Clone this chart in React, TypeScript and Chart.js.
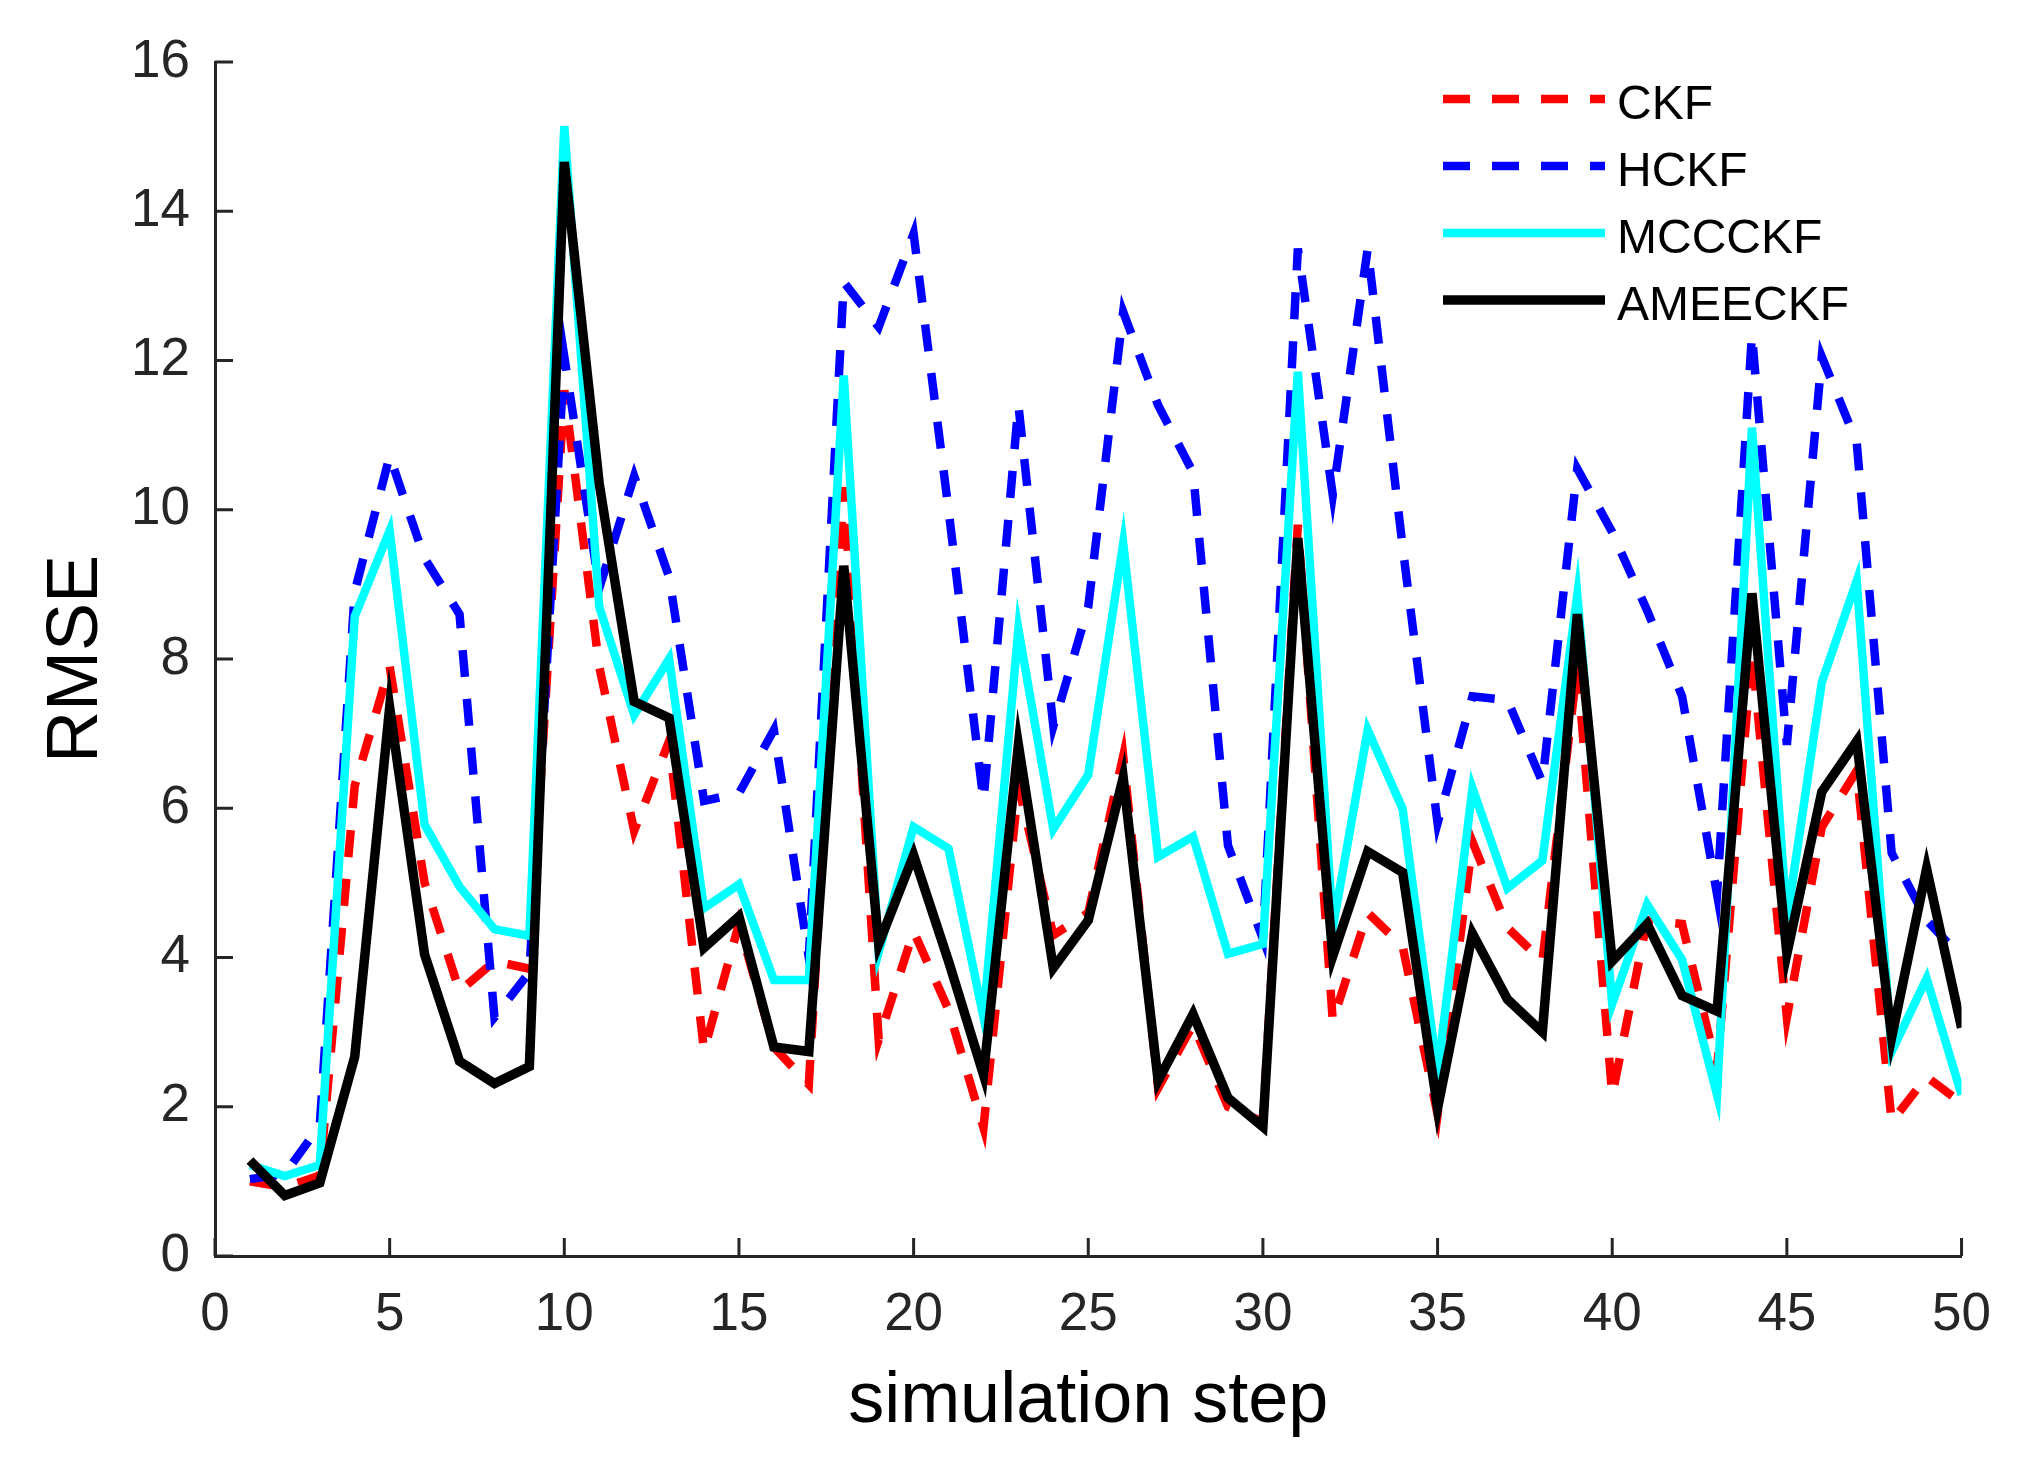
import { useEffect, useRef } from "react"
import { Chart, registerables } from "chart.js"

Chart.register(...registerables)

// simulation steps (x values)
const steps = [
  1, 2, 3, 4, 5, 6, 7, 8, 9, 10, 11, 12, 13, 14, 15, 16, 17, 18, 19, 20, 21, 22, 23, 24, 25,
  26, 27, 28, 29, 30, 31, 32, 33, 34, 35, 36, 37, 38, 39, 40, 41, 42, 43, 44, 45, 46, 47, 48, 49, 50,
]

const ckf = [
  1.0, 0.92, 1.08, 6.3, 7.9, 5.0, 3.55, 3.95, 3.85, 11.6,
  7.9, 5.7, 6.9, 2.75, 4.45, 2.8, 2.3, 10.3, 2.9, 4.35,
  3.3, 1.72, 6.3, 4.3, 4.6, 6.7, 2.25, 3.1, 2.0, 1.8,
  9.8, 3.15, 4.6, 4.15, 1.9, 5.55, 4.4, 3.95, 7.9, 2.15,
  4.5, 4.45, 2.5, 8.1, 3.2, 5.75, 6.5, 1.8, 2.4, 2.05,
]

const hckf = [
  1.03, 1.1, 1.75, 8.9, 10.72, 9.35, 8.6, 3.2, 3.8, 12.05,
  8.95, 10.45, 9.1, 6.1, 6.2, 7.05, 4.0, 13.05, 12.45, 13.7,
  10.0, 6.1, 11.4, 7.1, 8.7, 12.65, 11.4, 10.5, 5.5, 4.25,
  13.5, 10.2, 13.5, 9.5, 5.8, 7.5, 7.45, 6.35, 10.55, 9.7,
  8.65, 7.5, 4.85, 12.35, 6.85, 12.05, 10.9, 5.4, 4.5, 4.0,
]

const mccckf = [
  1.22, 1.07, 1.22, 8.57, 9.72, 5.78, 4.95, 4.38, 4.29, 15.14,
  8.7, 7.25, 8.0, 4.66, 4.98, 3.7, 3.7, 11.8, 4.07, 5.75,
  5.46, 3.2, 8.4, 5.72, 6.45, 9.55, 5.35, 5.62, 4.05, 4.18,
  11.85, 4.4, 7.05, 5.99, 2.45, 6.27, 4.93, 5.3, 8.86, 3.38,
  4.71, 3.97, 2.16, 11.1, 4.5, 7.69, 9.05, 2.74, 3.72, 2.16,
]

const ameeckf = [
  1.28, 0.81, 0.98, 2.67, 7.35, 4.04, 2.61, 2.31, 2.54, 14.66,
  10.35, 7.43, 7.21, 4.13, 4.55, 2.8, 2.74, 9.25, 4.18, 5.37,
  3.95, 2.43, 6.85, 3.86, 4.5, 6.41, 2.35, 3.24, 2.12, 1.73,
  9.62, 4.02, 5.42, 5.14, 1.98, 4.32, 3.44, 3.0, 8.6, 3.95,
  4.45, 3.49, 3.28, 8.88, 4.05, 6.22, 6.9, 2.93, 5.19, 3.06,
]

const FONT = "'Liberation Sans', Arial, Helvetica, sans-serif"
const AXIS_COLOR = "#262626"

const toPoints = (values: number[]) => values.map((y, i) => ({ x: steps[i], y }))

// MATLAB style inward ticks on the left and bottom axes
const inwardTicks = {
  id: "inwardTicks",
  beforeDatasetsDraw(chart: Chart) {
    const { ctx, chartArea } = chart
    const xScale = chart.scales.x
    const yScale = chart.scales.y
    ctx.save()
    ctx.strokeStyle = AXIS_COLOR
    ctx.lineWidth = 3
    ctx.beginPath()
    xScale.ticks.forEach((t) => {
      const px = xScale.getPixelForValue(t.value)
      ctx.moveTo(px, chartArea.bottom)
      ctx.lineTo(px, chartArea.bottom - 18)
    })
    yScale.ticks.forEach((t) => {
      const py = yScale.getPixelForValue(t.value)
      ctx.moveTo(chartArea.left, py)
      ctx.lineTo(chartArea.left + 18, py)
    })
    ctx.stroke()
    ctx.restore()
  },
}

// legend drawn inside the axes, top right, with long line samples
const insideLegend = {
  id: "insideLegend",
  afterDatasetsDraw(chart: Chart) {
    const { ctx } = chart
    ctx.save()
    chart.data.datasets.forEach((ds: any, i: number) => {
      const y = 99 + i * 67
      ctx.beginPath()
      ctx.strokeStyle = ds.borderColor
      ctx.lineWidth = ds.borderWidth
      ctx.setLineDash(ds.borderDash || [])
      ctx.lineCap = "butt"
      ctx.moveTo(1443, y)
      ctx.lineTo(1605, y)
      ctx.stroke()
      ctx.setLineDash([])
      ctx.fillStyle = "#000000"
      ctx.font = `48px ${FONT}`
      ctx.textBaseline = "alphabetic"
      ctx.textAlign = "left"
      ctx.fillText(ds.label, 1617, y + 20)
    })
    ctx.restore()
  },
}

export default function App() {
  const canvasRef = useRef<HTMLCanvasElement>(null)

  useEffect(() => {
    if (!canvasRef.current) return
    const chart = new Chart(canvasRef.current, {
      type: "line",
      data: {
        datasets: [
          {
            label: "CKF",
            data: toPoints(ckf),
            borderColor: "#ff0000",
            borderWidth: 8.5,
            borderDash: [27, 22],
            pointRadius: 0,
            order: 3,
          },
          {
            label: "HCKF",
            data: toPoints(hckf),
            borderColor: "#0000ff",
            borderWidth: 8.5,
            borderDash: [27, 22],
            pointRadius: 0,
            order: 2,
          },
          {
            label: "MCCCKF",
            data: toPoints(mccckf),
            borderColor: "#00ffff",
            borderWidth: 8.5,
            pointRadius: 0,
            order: 1,
          },
          {
            label: "AMEECKF",
            data: toPoints(ameeckf),
            borderColor: "#000000",
            borderWidth: 9.5,
            pointRadius: 0,
            order: 0,
          },
        ],
      },
      options: {
        responsive: true,
        maintainAspectRatio: false,
        animation: false,
        devicePixelRatio: 1,
        layout: { padding: { top: 62, right: 47, left: 0, bottom: 0 } },
        elements: { line: { tension: 0, borderJoinStyle: "miter", borderCapStyle: "butt" } },
        plugins: {
          legend: { display: false },
          tooltip: { enabled: false },
        },
        scales: {
          x: {
            type: "linear",
            min: 0,
            max: 50,
            afterFit: (scale: any) => {
              scale.height = 221
            },
            ticks: {
              stepSize: 5,
              color: AXIS_COLOR,
              padding: 28,
              maxRotation: 0,
              font: { family: FONT, size: 53 },
            },
            grid: { drawOnChartArea: false, drawTicks: false },
            border: { display: true, color: AXIS_COLOR, width: 3 },
            title: {
              display: true,
              text: "simulation step",
              color: "#000000",
              padding: { top: 0, bottom: 32 },
              font: { family: FONT, size: 72 },
            },
          },
          y: {
            min: 0,
            max: 16,
            afterFit: (scale: any) => {
              scale.width = 215
            },
            ticks: {
              stepSize: 2,
              color: AXIS_COLOR,
              padding: 25,
              font: { family: FONT, size: 53 },
            },
            grid: { drawOnChartArea: false, drawTicks: false },
            border: { display: true, color: AXIS_COLOR, width: 3 },
            title: {
              display: true,
              text: "RMSE",
              color: "#000000",
              padding: { top: 34, bottom: 0 },
              font: { family: FONT, size: 72 },
            },
          },
        },
      },
      plugins: [inwardTicks, insideLegend],
    })
    return () => {
      chart.destroy()
    }
  }, [])

  return (
    <div style={{ position: "fixed", left: 0, top: 0, width: 2019, height: 1477, background: "#ffffff" }}>
      <canvas ref={canvasRef} />
    </div>
  )
}
